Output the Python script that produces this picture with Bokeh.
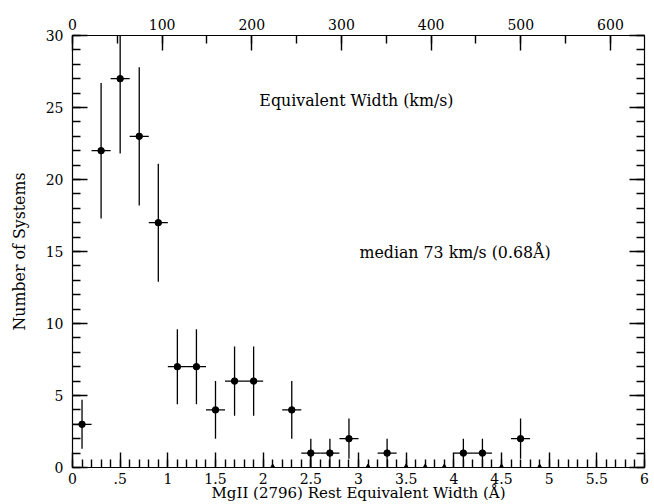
from bokeh.plotting import figure
from bokeh.models import (LinearAxis, Range1d, FixedTicker, SingleIntervalTicker, Label)
from bokeh.embed import file_html
from bokeh.resources import INLINE

# ---- data ----
bin_centers = [0.1, 0.3, 0.5, 0.7, 0.9, 1.1, 1.3, 1.5, 1.7, 1.9, 2.1, 2.3, 2.5, 2.7, 2.9,
               3.1, 3.3, 3.5, 3.7, 3.9, 4.1, 4.3, 4.5, 4.7, 4.9]
counts = [3, 22, 27, 23, 17, 7, 7, 4, 6, 6, 0, 4, 1, 1, 2,
          0, 1, 0, 0, 0, 1, 1, 0, 2, 0]
errors = [1.7, 4.7, 5.2, 4.8, 4.1, 2.6, 2.6, 2.0, 2.4, 2.4, 0, 2.0, 1.0, 1.0, 1.4,
          0, 1.0, 0, 0, 0, 1.0, 1.0, 0, 1.4, 0]
half_bin = 0.1
x_tick_labels = {0: "0", 0.5: ".5", 1: "1", 1.5: "1.5", 2: "2", 2.5: "2.5", 3: "3",
                 3.5: "3.5", 4: "4", 4.5: "4.5", 5: "5", 5.5: "5.5", 6: "6"}
kms_max = 638  # km/s at the right edge (6 Å)

FONT = "DejaVu Serif"
TICK_SIZE = "14px"
TEXT_SIZE = "15.8px"

p = figure(width=654, height=504, output_backend="svg", toolbar_location=None,
           x_range=Range1d(0, 6), y_range=Range1d(0, 30),
           min_border_left=72, min_border_right=10, min_border_top=35, min_border_bottom=37)
p.background_fill_color = None
p.border_fill_color = None
p.outline_line_color = "black"
p.outline_line_width = 1.2
p.xgrid.visible = False
p.ygrid.visible = False

p.extra_x_ranges = {"kms": Range1d(0, kms_max)}
p.extra_y_ranges = {"right": Range1d(0, 30)}

def style(ax):
    ax.major_tick_in = 15
    ax.major_tick_out = 0
    ax.minor_tick_in = 8
    ax.minor_tick_out = 0
    ax.major_tick_line_color = "black"
    ax.minor_tick_line_color = "black"
    ax.major_tick_line_width = 1.4
    ax.minor_tick_line_width = 1.4
    ax.axis_line_color = "black"
    ax.major_label_text_font = FONT
    ax.major_label_text_font_size = TICK_SIZE
    ax.major_label_text_color = "black"
    ax.axis_label_text_font = FONT
    ax.axis_label_text_font_size = TEXT_SIZE
    ax.axis_label_text_font_style = "normal"
    ax.axis_label_text_color = "black"

# bottom axis
xa = p.xaxis[0]
xa.ticker = FixedTicker(ticks=list(x_tick_labels.keys()),
                        minor_ticks=[round(i * 0.1, 1) for i in range(61)])
xa.major_label_overrides = x_tick_labels
xa.axis_label = "MgII (2796) Rest Equivalent Width (Å)"
style(xa)
xa.axis_label_text_font_size = "15px"
xa.major_label_standoff = 5
xa.axis_label_standoff = -3

# left axis
ya = p.yaxis[0]
ya.ticker = SingleIntervalTicker(interval=5, num_minor_ticks=5)
ya.axis_label = "Number of Systems"
style(ya)
ya.major_label_standoff = 9
ya.axis_label_standoff = 14

# top axis (km/s)
top = LinearAxis(x_range_name="kms", ticker=SingleIntervalTicker(interval=100, num_minor_ticks=2))
style(top)
top.major_label_standoff = 6
p.add_layout(top, "above")

# right axis
right = LinearAxis(y_range_name="right", ticker=SingleIntervalTicker(interval=5, num_minor_ticks=5))
style(right)
right.major_label_text_font_size = "0px"
right.major_label_text_alpha = 0
p.add_layout(right, "right")

# error bars and points
nz = [i for i, c in enumerate(counts) if c > 0]
z = [i for i, c in enumerate(counts) if c == 0]
xs = [bin_centers[i] for i in nz]
ys = [counts[i] for i in nz]
es = [errors[i] for i in nz]

p.segment(x0=xs, x1=xs, y0=[y - e for y, e in zip(ys, es)], y1=[y + e for y, e in zip(ys, es)],
          line_color="black", line_width=1.3)
p.segment(x0=[x - half_bin for x in xs], x1=[x + half_bin for x in xs], y0=ys, y1=ys,
          line_color="black", line_width=1.3)
p.scatter(xs, ys, size=6.5, marker="circle", fill_color="black", line_color="black")
p.scatter([bin_centers[i] for i in z], [counts[i] for i in z], size=6, marker="triangle",
          fill_color="black", line_color="black")

p.add_layout(Label(x=1.96, y=25.5, text="Equivalent Width (km/s)", text_font=FONT,
                   text_font_size=TEXT_SIZE, text_color="black", text_baseline="middle"))
p.add_layout(Label(x=3.01, y=14.93, text="median 73 km/s (0.68Å)", text_font=FONT,
                   text_font_size=TEXT_SIZE, text_color="black", text_baseline="middle"))

open("out.html", "w").write(file_html(p, INLINE))
